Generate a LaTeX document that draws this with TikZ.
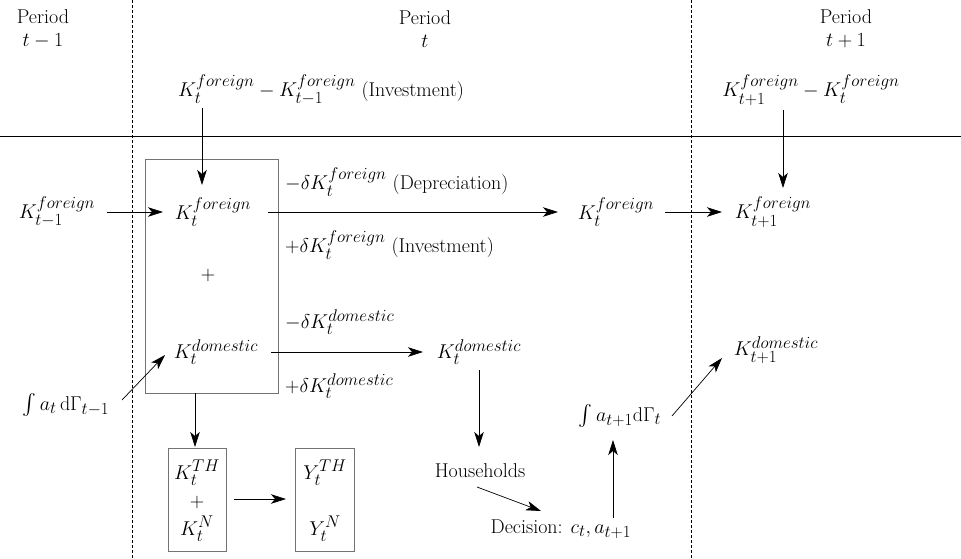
\RequirePackage{fix-cm}
\documentclass[tikz,border=0pt]{standalone}
\usepackage{fontspec}
\usepackage{exscale}
\usetikzlibrary{arrows.meta}
\DeclareMathSizes{20}{20}{17}{12}
\begin{document}
\begin{tikzpicture}[x=1pt,y=-1pt,
  font=\fontsize{20}{24}\selectfont,
  arr/.style={-{Stealth[length=15pt,width=9.5pt,inset=4pt]}, line width=0.7pt},
  box/.style={draw=black!55, line width=0.7pt},
  sep/.style={line width=0.7pt},
  dsh/.style={line width=0.6pt, dash pattern=on 3pt off 2pt},
  lbl/.style={inner sep=0pt},
  ttl/.style={inner sep=0pt, align=center, font=\fontsize{20}{23}\selectfont}]
\useasboundingbox (0,0) rectangle (961,558);
% separators
\draw[dsh] (132,0) -- (132,558);
\draw[dsh] (691,0) -- (691,558);
\draw[sep] (0,136) -- (961,136);
% titles
\node[ttl] (p1) at (43,29) {Period\\$t-1$};
\node[ttl] (p2) at (425,29) {Period\\$t$};
\node[ttl] (p3) at (846,29) {Period\\$t+1$};
% top investment labels
\node[lbl] (inv1) at (321,90) {$K_t^{foreign}-K_{t-1}^{foreign}$ (Investment)};
\node[lbl] (inv2) at (811,90) {$K_{t+1}^{foreign}-K_t^{foreign}$};
% boxes
\draw[box] (145,159) rectangle (278,393);
\draw[box] (168,448) rectangle (226,551);
\draw[box] (295,448) rectangle (354,551);
% foreign row
\node[lbl] (kfm1) at (57,212) {$K_{t-1}^{foreign}$};
\node[lbl] (kft) at (213,212) {$K_t^{foreign}$};
\node[lbl] (kft2) at (616,212) {$K_t^{foreign}$};
\node[lbl] (kfp1) at (773,212) {$K_{t+1}^{foreign}$};
\node[lbl, anchor=west] (dep) at (285,182) {$-\delta K_t^{foreign}$ (Depreciation)};
\node[lbl, anchor=west] (invl) at (285,245) {$+\delta K_t^{foreign}$ (Investment)};
\node[lbl] (plus) at (208,275) {$+$};
% domestic row
\node[lbl, anchor=west] (mdd) at (285,322) {$-\delta K_t^{domestic}$};
\node[lbl] (kdt) at (216,352) {$K_t^{domestic}$};
\node[lbl] (kdt2) at (479,352) {$K_t^{domestic}$};
\node[lbl, anchor=west] (pdd) at (285,386) {$+\delta K_t^{domestic}$};
\node[lbl] (int1) at (66,405) {$\int a_t\,\mathrm{d}\Gamma_{t-1}$};
\node[lbl] (kdp1) at (776,350) {$K_{t+1}^{domestic}$};
\node[lbl] (int2) at (620,416) {$\int a_{t+1}\mathrm{d}\Gamma_t$};
% production boxes
\node[lbl] (kth) at (197,473) {$K_t^{TH}$};
\node[lbl] (plus2) at (197,502) {$+$};
\node[lbl] (kn) at (197,529) {$K_t^{N}$};
\node[lbl] (yth) at (325,473) {$Y_t^{TH}$};
\node[lbl] (yn) at (325,529) {$Y_t^{N}$};
% households
\node[lbl] (hh) at (480,471) {Households};
\node[lbl] (dec) at (561,529) {Decision: $c_t, a_{t+1}$};
% arrow end points
\coordinate (c1) at (202,108);  \coordinate (c2) at (202,185);
\coordinate (c3) at (107,212);  \coordinate (c4) at (163,212);
\coordinate (c5) at (268,212);  \coordinate (c6) at (558,212);
\coordinate (c7) at (665,212);  \coordinate (c8) at (722,212);
\coordinate (c9) at (783,110);  \coordinate (c10) at (783,188);
\coordinate (d1) at (271,352);  \coordinate (d2) at (423,352);
\coordinate (d3) at (122,400);  \coordinate (d4) at (165,355);
\coordinate (e1) at (195,393);  \coordinate (e2) at (195,447);
\coordinate (e3) at (234,499);  \coordinate (e4) at (286,499);
\coordinate (h1) at (479,370);  \coordinate (h2) at (479,447);
\coordinate (h3) at (477,487);  \coordinate (h4) at (541,511);
\coordinate (h5) at (613,518);  \coordinate (h6) at (613,440);
\coordinate (h7) at (672,416);  \coordinate (h8) at (722,358);
% arrows
\draw[arr] (c1) -- (c2);
\draw[arr] (c3) -- (c4);
\draw[arr] (c5) -- (c6);
\draw[arr] (c7) -- (c8);
\draw[arr] (c9) -- (c10);
\draw[arr] (d1) -- (d2);
\draw[arr] (d3) -- (d4);
\draw[arr] (e1) -- (e2);
\draw[arr] (e3) -- (e4);
\draw[arr] (h1) -- (h2);
\draw[arr] (h3) -- (h4);
\draw[arr] (h5) -- (h6);
\draw[arr] (h7) -- (h8);
\end{tikzpicture}
\end{document}
